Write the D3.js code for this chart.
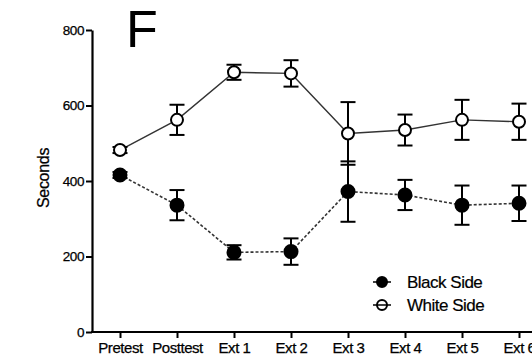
<!DOCTYPE html>
<html>
<head>
<meta charset="utf-8">
<script src="https://cdn.jsdelivr.net/npm/d3@7"></script>
<style>
  html, body { margin: 0; padding: 0; background: #fff; }
  svg { display: block; font-family: "Liberation Sans", Arial, sans-serif; }
</style>
</head>
<body>
<svg id="chart" width="532" height="360"></svg>
<script>
// ---- data ----
const categories = ["Pretest", "Posttest", "Ext 1", "Ext 2", "Ext 3", "Ext 4", "Ext 5", "Ext 6"];
const whiteMean = [482, 562, 688, 685, 526, 535, 562, 557];
const whiteErr  = [8, 40, 20, 35, 83, 41, 53, 48];
const blackMean = [416, 336, 211, 213, 372, 363, 336, 341];
const blackErr  = [8, 40, 19, 35, 80, 40, 52, 47];
const yTicks = [0, 200, 400, 600, 800];
const seriesNames = ["Black Side", "White Side"];

// ---- layout ----
const svg = d3.select("#chart");
const axisX0 = 92, axisY0 = 332, axisTop = 30;

const x = d3.scalePoint().domain(categories).range([120, 519]);
const y = d3.scaleLinear().domain([0, 800]).range([axisY0, axisTop]);

// Panel letter
svg.append("text").attr("x", 126).attr("y", 47)
  .attr("font-size", 52).attr("fill", "#000").text("F");

// Y axis
const yAxis = svg.append("g").attr("transform", `translate(${axisX0},0)`)
  .call(d3.axisLeft(y).tickValues(yTicks).tickSize(6).tickSizeOuter(0).tickPadding(2));
yAxis.select(".domain").attr("stroke-width", 2.2);
yAxis.selectAll(".tick line").attr("stroke-width", 2);
yAxis.selectAll(".tick text").attr("font-size", 13.5).attr("letter-spacing", -0.4)
  .attr("font-family", "Liberation Sans, Arial, sans-serif").attr("fill", "#000")
  .attr("stroke", "#000").attr("stroke-width", 0.25);

// Y label
svg.append("text")
  .attr("transform", `translate(49,${y(400) - 3}) rotate(-90)`)
  .attr("text-anchor", "middle").attr("font-size", 16).attr("letter-spacing", -0.3)
  .attr("fill", "#000").attr("stroke", "#000").attr("stroke-width", 0.25).text("Seconds");

// X axis
const xAxis = svg.append("g").attr("transform", `translate(0,${axisY0})`)
  .call(d3.axisBottom(x).tickSize(6).tickSizeOuter(0).tickPadding(4));
xAxis.select(".domain").remove();
xAxis.append("line").attr("x1", axisX0 - 1).attr("x2", 540)
  .attr("stroke", "#000").attr("stroke-width", 2.2);
xAxis.selectAll(".tick line").attr("stroke-width", 2);
xAxis.selectAll(".tick text").attr("font-size", 15).attr("letter-spacing", -0.45)
  .attr("font-family", "Liberation Sans, Arial, sans-serif").attr("fill", "#000")
  .attr("stroke", "#000").attr("stroke-width", 0.25);

// series helper
function drawSeries(means, errs, filled, dashed) {
  const g = svg.append("g");
  const line = d3.line().x((d, i) => x(categories[i])).y(d => y(d));
  g.append("path").datum(means).attr("d", line)
    .attr("fill", "none").attr("stroke", "#333").attr("stroke-width", dashed ? 1.6 : 1.4)
    .attr("stroke-dasharray", dashed ? "3,2" : null);
  const eb = g.selectAll(".eb").data(means).enter().append("g");
  eb.append("line").attr("x1", (d, i) => x(categories[i])).attr("x2", (d, i) => x(categories[i]))
    .attr("y1", (d, i) => y(d + errs[i])).attr("y2", (d, i) => y(d - errs[i]))
    .attr("stroke", "#000").attr("stroke-width", 2);
  [1, -1].forEach(s => {
    eb.append("line")
      .attr("x1", (d, i) => x(categories[i]) - 7.5).attr("x2", (d, i) => x(categories[i]) + 7.5)
      .attr("y1", (d, i) => y(d + s * errs[i])).attr("y2", (d, i) => y(d + s * errs[i]))
      .attr("stroke", "#000").attr("stroke-width", 2);
  });
  g.selectAll("circle").data(means).enter().append("circle")
    .attr("cx", (d, i) => x(categories[i])).attr("cy", d => y(d))
    .attr("r", filled ? 6.5 : 6)
    .attr("fill", filled ? "#000" : "#fff").attr("stroke", "#000").attr("stroke-width", 2);
}
drawSeries(whiteMean, whiteErr, false, false);
drawSeries(blackMean, blackErr, true, true);

// Legend
const leg = svg.append("g");
seriesNames.forEach((name, k) => {
  const ly = 282 + k * 23;
  leg.append("line").attr("x1", 373).attr("x2", 391).attr("y1", ly).attr("y2", ly)
    .attr("stroke", "#000").attr("stroke-width", 1.5);
  leg.append("circle").attr("cx", 382).attr("cy", ly).attr("r", 5)
    .attr("fill", k === 0 ? "#000" : "none").attr("stroke", "#000").attr("stroke-width", 2);
  leg.append("text").attr("x", 407).attr("y", ly + 6)
    .attr("font-size", 17).attr("letter-spacing", -0.5).attr("fill", "#000")
    .attr("stroke", "#000").attr("stroke-width", 0.2).text(name);
});
</script>
</body>
</html>
